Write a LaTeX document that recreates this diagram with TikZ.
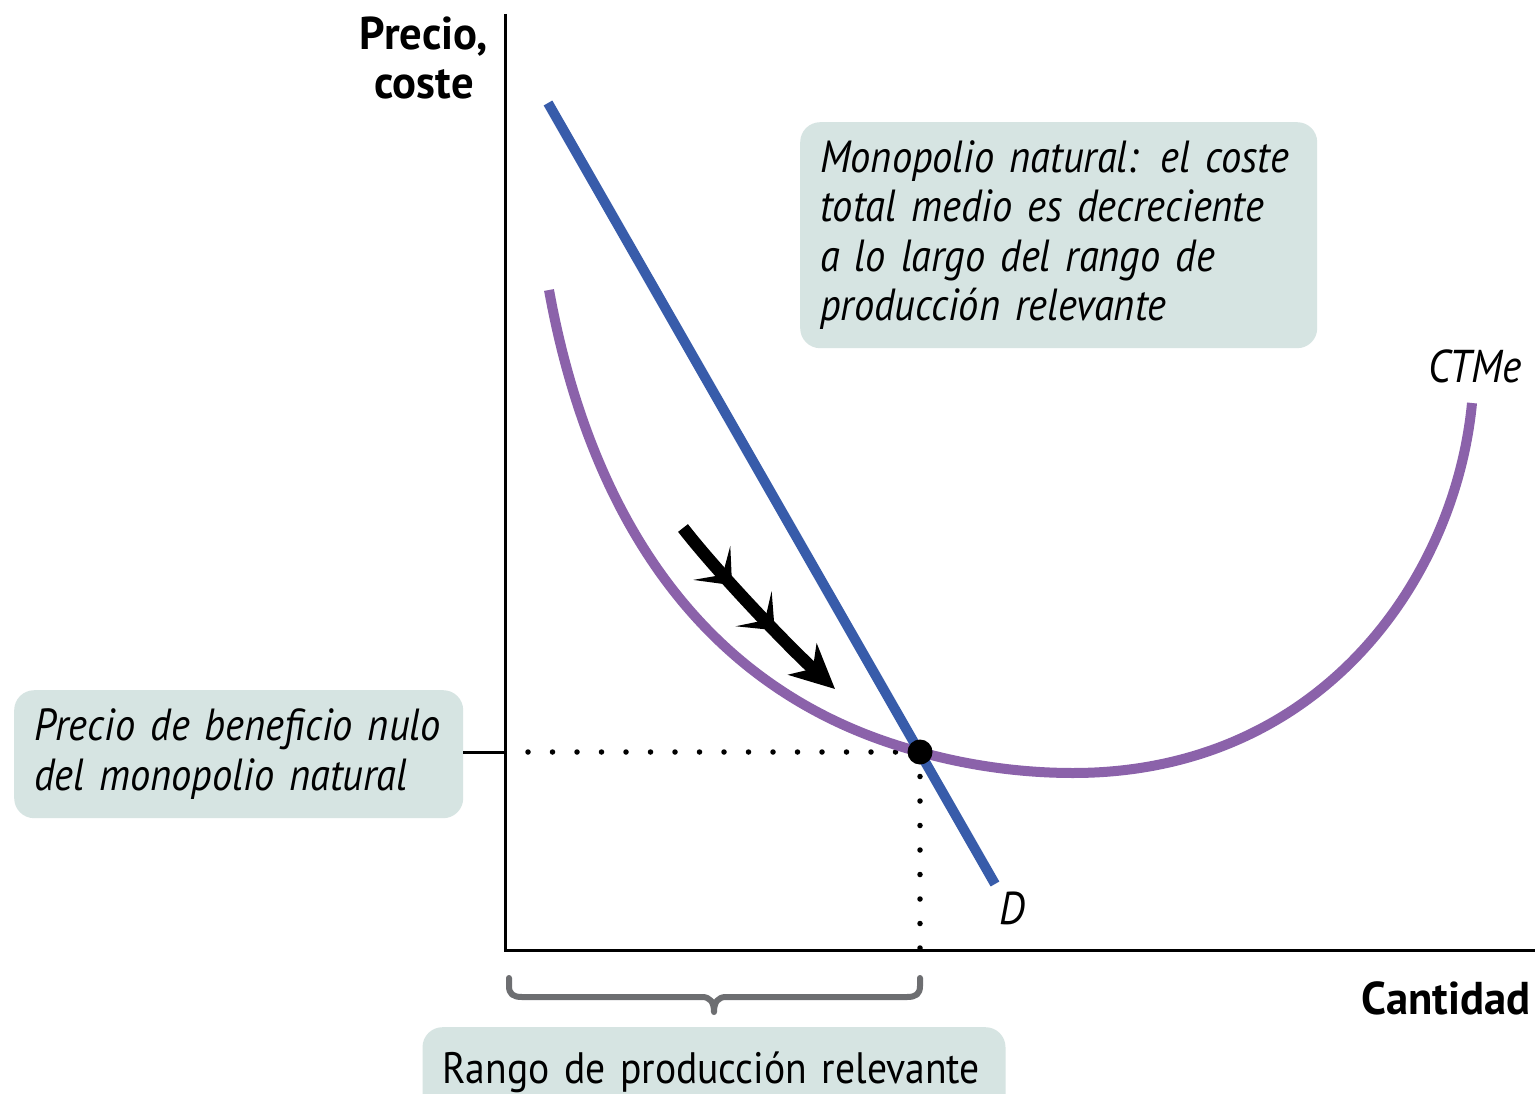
\documentclass[tikz,border=0pt]{standalone}
\usepackage{fontspec}
\setmainfont{PT Sans}[FakeStretch=0.9]
\newfontfamily\axisfont{PT Sans}[FakeStretch=0.97]
\usetikzlibrary{decorations.markings,arrows.meta}
\definecolor{ctme}{RGB}{139,98,170}
\definecolor{dem}{RGB}{56,92,170}
\definecolor{boxfill}{RGB}{214,228,226}
\definecolor{bracegray}{RGB}{109,110,113}
\tikzset{midbarb/.tip={Stealth[length=30pt,width=50pt,inset=16pt]}}
\begin{document}
\begin{tikzpicture}[x=1pt,y=-1pt,
  infobox/.style={fill=boxfill,rounded corners=20pt,anchor=north west,align=left,inner xsep=20pt,
     font=\fontsize{45}{49.5}\selectfont\itshape},
  axislbl/.style={font=\axisfont\fontsize{46}{49}\selectfont\bfseries,align=center},
  curvelbl/.style={font=\fontsize{46}{49}\selectfont\itshape},
  axisline/.style={line width=3pt},
  dots/.style={line width=5.5pt,line cap=round,dash pattern=on 0pt off 24.5pt}]
\clip (0,0) rectangle (1539,1094);
\fill[white] (0,0) rectangle (1539,1094);
% axes
\coordinate (origin) at (505,950);
\coordinate (ytop) at (505,14);
\coordinate (xend) at (1535,950);
\draw[axisline] (ytop) -- (origin) -- (xend);
\node[axislbl] (ylbl) at (424,58) {Precio,\\coste};
\node[axislbl,anchor=east] (xlbl) at (1534,998) {Cantidad};
% boxes
\node[infobox,minimum width=517pt,minimum height=226pt,text width=477pt] (topbox) at (800,122)
 {Monopolio natural: el coste\\total medio es decreciente\\a lo largo del rango de\\producción relevante};
\node[infobox,minimum width=449pt,minimum height=128pt,text width=409pt] (leftbox) at (14,690)
 {Precio de beneficio nulo\\del monopolio natural};
\node[infobox,minimum width=583pt,minimum height=90pt,text width=543pt,font=\fontsize{44}{49}\selectfont,inner ysep=10pt,anchor=north] (botbox) at (714,1027)
 {Rango de producción relevante};
% equilibrium point
\coordinate (eq) at (920,752);
\coordinate (yeq) at (505,752);
\coordinate (xeq) at (920,950);
\draw[dots] (eq) ++(-24.5,0) -- (yeq);
\draw[dots] (eq) ++(0,24.5) -- (xeq);
\draw[axisline] (leftbox.east |- yeq) -- (yeq);
% curves
\coordinate (cstart) at (549,290);
\coordinate (cmin) at (1073,773);
\coordinate (cend) at (1472,403);
\draw[ctme,line width=10pt]
  (cstart) .. controls (588,505) and (695,692) .. (eq)
  .. controls (970,766) and (1023,773) .. (cmin)
  .. controls (1320,773) and (1455,580) .. (cend);
\coordinate (dtop) at (548,103);
\coordinate (dbot) at (995,884);
\draw[dem,line width=10pt] (dtop) -- (dbot);
\fill (eq) circle (12.5);
\node[curvelbl] (dlbl) at (1012,908) {D};
\node[curvelbl] (ctmelbl) at (1475,366) {CTMe};
% movement arrow
\coordinate (a1) at (683,528);
\coordinate (a2) at (835,689);
\draw[line width=12.5pt,
  decoration={markings,
    mark=at position 0.34 with {\arrow{midbarb}},
    mark=at position 0.62 with {\arrow{midbarb}}},
  postaction=decorate,-{Stealth[length=44pt,width=42pt,inset=14pt]}]
  (a1) .. controls (718,573) and (788,646) .. (a2);
% brace
\coordinate (bl) at (509,978);
\coordinate (br) at (920,978);
\coordinate (btip) at (714,1012);
\draw[bracegray,line width=6pt,line join=round,line cap=round]
  (bl) -- (509,986) .. controls (509,994) and (513,997) .. (522,997) -- (702,997)
  .. controls (710,997) and (714,1002) .. (btip)
  .. controls (714,1002) and (718,997) .. (726,997) -- (907,997)
  .. controls (916,997) and (920,994) .. (920,986) -- (br);
\end{tikzpicture}
\end{document}
